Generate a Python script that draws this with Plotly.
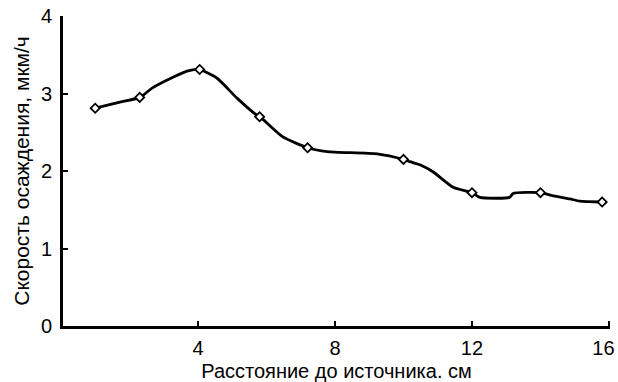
import plotly.graph_objects as go

# Curve (distance, cm -> rate, um/h)
curve_x = [1.0, 1.72, 2.31, 2.66, 3.27, 3.68, 4.03, 4.55, 5.14, 5.72, 5.81, 6.48, 7.21,
           7.77, 9.23, 9.99, 10.19, 10.48, 10.86, 11.45, 12.0, 12.23, 13.1, 13.2,
           14.0, 14.28, 14.86, 15.15, 15.77]
curve_y = [2.81, 2.89, 2.95, 3.07, 3.21, 3.29, 3.31, 3.20, 2.94, 2.72, 2.70, 2.44, 2.30,
           2.25, 2.22, 2.15, 2.12, 2.08, 1.99, 1.79, 1.72, 1.66, 1.66, 1.71,
           1.72, 1.69, 1.64, 1.61, 1.60]

# Measured points (markers)
point_x = [1.0, 2.3, 4.05, 5.8, 7.2, 10.0, 12.0, 14.0, 15.8]
point_y = [2.81, 2.95, 3.31, 2.70, 2.30, 2.15, 1.72, 1.72, 1.60]

x_ticks = [4, 8, 12, 16]
x_ticktext = ["4", "8", "12", "16\u00a0\u00a0"]
y_ticks = [0, 1, 2, 3, 4]

x_title = "Расстояние до источника. см"
y_title = "Скорость осаждения, мкм/ч"

fig = go.Figure()
fig.add_trace(go.Scatter(x=curve_x, y=curve_y, mode="lines",
                         line=dict(color="black", width=2.8, shape="spline", smoothing=0.6),
                         hoverinfo="skip", showlegend=False, cliponaxis=False))
fig.add_trace(go.Scatter(x=point_x, y=point_y, mode="markers",
                         marker=dict(symbol="diamond", size=7, color="white",
                                     line=dict(color="black", width=1.8)),
                         showlegend=False, cliponaxis=False))

FAM = "Liberation Sans, Arial, sans-serif"
font = dict(family=FAM, size=20, color="black")
xtfont = dict(family=FAM, size=20, color="black")
ytfont = dict(family=FAM, size=21, color="black")

fig.update_layout(
    width=618, height=382,
    margin=dict(l=63, r=8, t=16, b=56),
    paper_bgcolor="white", plot_bgcolor="white",
    font=font,
    xaxis=dict(range=[0.06, 16.03], tickvals=x_ticks, ticktext=x_ticktext,
               ticks="inside", ticklen=5, automargin=False,
               tickwidth=2, tickcolor="black", showline=True, linecolor="black",
               linewidth=3, showgrid=False, zeroline=False, tickfont=font,
               ticklabelstandoff=2, ticklabeloverflow="allow",
               title=dict(text=x_title, font=xtfont, standoff=8)),
    yaxis=dict(range=[0, 4], tickvals=y_ticks, ticks="inside", ticklen=5, automargin=False,
               tickwidth=2, tickcolor="black", showline=True, linecolor="black",
               linewidth=3, showgrid=False, zeroline=False, tickfont=font,
               ticklabelstandoff=4, ticklabeloverflow="allow",
               title=dict(text=y_title, font=ytfont, standoff=6)),
)

fig.write_html("out.html")
